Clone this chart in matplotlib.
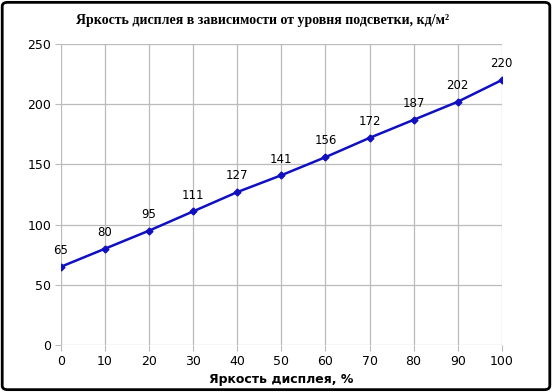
import matplotlib
matplotlib.use('Agg')
import matplotlib.pyplot as plt
from matplotlib.patches import FancyBboxPatch

# data
x_vals = [0, 10, 20, 30, 40, 50, 60, 70, 80, 90, 100]
y_vals = [65, 80, 95, 111, 127, 141, 156, 172, 187, 202, 220]

fig = plt.figure(figsize=(5.52, 3.92), dpi=100)
ax = fig.add_axes([0.1105, 0.1199, 0.7985, 0.7679])

ax.plot(x_vals, y_vals, color='#1010C0', lw=1.8, marker='D', ms=3.5,
        markerfacecolor='#1010C0', markeredgecolor='#1010C0', zorder=3)
for xv, yv in zip(x_vals, y_vals):
    ax.annotate(str(yv), (xv, yv), textcoords='offset points', xytext=(0, 7),
                ha='center', va='bottom', fontsize=8.5, family='DejaVu Sans')

ax.set_xlim(0, 100)
ax.set_ylim(0, 250)
ax.set_xticks(range(0, 101, 10))
ax.set_yticks(range(0, 251, 50))
ax.grid(True, color='#BBBBBB', lw=0.9)
ax.set_axisbelow(True)
for s in ax.spines.values():
    s.set_visible(False)
ax.tick_params(axis='both', length=4, color='#BBBBBB', labelsize=9, pad=3)

ax.set_xlabel('Яркость дисплея, %', fontsize=9, fontweight='bold', labelpad=4)
fig.text(0.476, 0.948, 'Яркость дисплея в зависимости от уровня подсветки, кд/м²',
         ha='center', va='center', fontsize=10, fontweight='bold',
         family='Liberation Serif')

border = FancyBboxPatch((0.004, 0.006), 0.992, 0.988, boxstyle='round,pad=0,rounding_size=0.01',
                        transform=fig.transFigure, fill=False, ec='black', lw=2)
fig.patches.append(border)

fig.savefig('out.png', dpi=100)
